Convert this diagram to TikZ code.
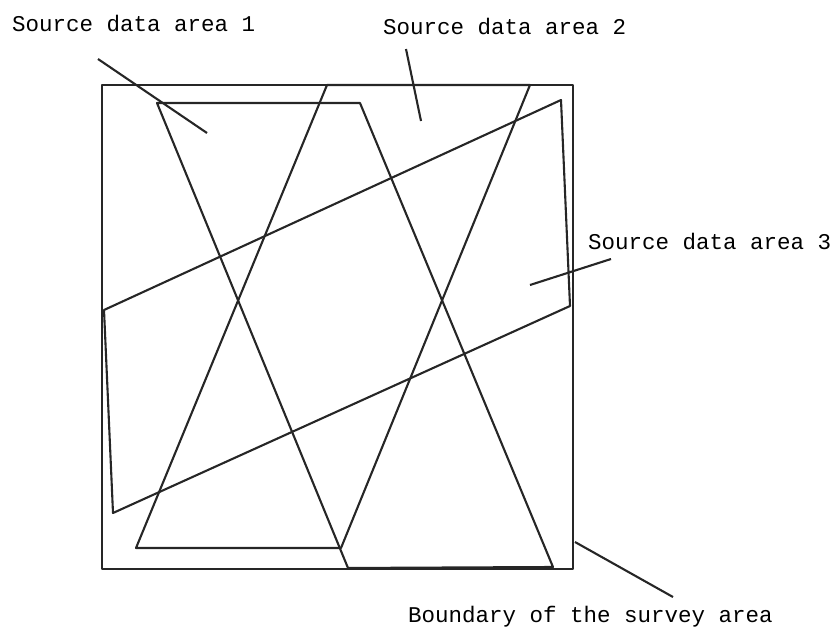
\documentclass[tikz,border=0pt]{standalone}
\usepackage{fontspec}
\setmonofont{Liberation Mono}
\usetikzlibrary{calc}

\begin{document}
\begin{tikzpicture}[x=1pt, y=-1pt, line join=round,
    arealine/.style={line width=2.1pt, black!85},
    leader/.style={line width=2.1pt, black!85},
    lbl/.style={anchor=west, inner sep=0pt, font=\ttfamily\fontsize{22.5}{26}\selectfont}]
    \useasboundingbox (0,0) rectangle (833,627);

    % Boundary of the survey area
    \draw [arealine] (102,85) rectangle (573,569);

    % Source data area 1
    \draw [arealine] (157,103) -- (360,103) -- (553,567) -- (348,568) -- cycle;

    % Source data area 2
    \draw [arealine] (327,85) -- (530,85) -- (341,548) -- (136,548) -- cycle;

    % Source data area 3
    \draw [arealine] (104,310) -- (561,100) -- (570,306) -- (113,513) -- cycle;

    % Labels
    \node [lbl] (lab1) at (12,23) {Source data area 1};
    \node [lbl] (lab2) at (383,26) {Source data area 2};
    \node [lbl] (lab3) at (588,241) {Source data area 3};
    \node [lbl] (labB) at (408,617) {Boundary of the survey area};

    % Leader lines
    \coordinate (s1) at (98,59);   \coordinate (e1) at (207,133);
    \coordinate (s2) at (406,49);  \coordinate (e2) at (421,121);
    \coordinate (s3) at (611,259); \coordinate (e3) at (530,285);
    \coordinate (sB) at (673,597); \coordinate (eB) at (575,542);
    \draw [leader] (s1) -- (e1);
    \draw [leader] (s2) -- (e2);
    \draw [leader] (s3) -- (e3);
    \draw [leader] (sB) -- (eB);
\end{tikzpicture}
\end{document}
